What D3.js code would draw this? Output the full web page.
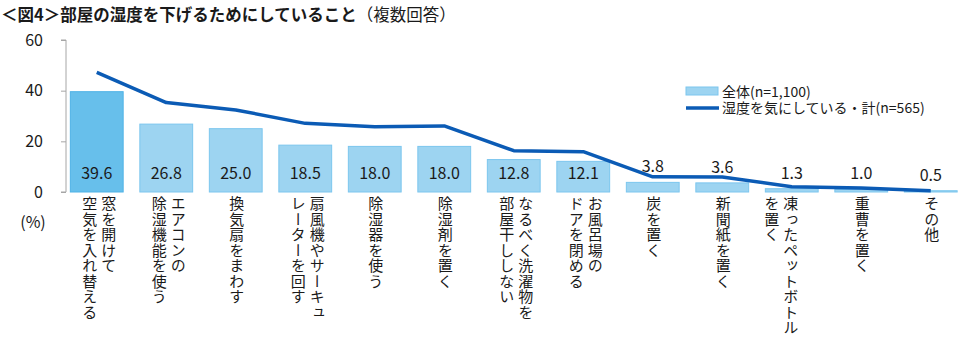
<!DOCTYPE html>
<html><head><meta charset="utf-8">
<script src="https://cdn.jsdelivr.net/npm/d3@7"></script>
<style>
body{margin:0;background:#fff;}
svg text{font-family:"Noto Sans CJK JP","Noto Sans",sans-serif;fill:#1a1a1a;}
</style></head><body>
<svg id="c" width="960" height="343"></svg>
<script>
const categories = [
  ["窓を開けて","空気を入れ替える"],
  ["エアコンの","除湿機能を使う"],
  ["換気扇をまわす"],
  ["扇風機やサーキュ","レーターを回す"],
  ["除湿器を使う"],
  ["除湿剤を置く"],
  ["なるべく洗濯物を","部屋干ししない"],
  ["お風呂場の","ドアを閉める"],
  ["炭を置く"],
  ["新聞紙を置く"],
  ["凍ったペットボトル","を置く"],
  ["重曹を置く"],
  ["その他"]
];
const totalValues = [39.6, 26.8, 25.0, 18.5, 18.0, 18.0, 12.8, 12.1, 3.8, 3.6, 1.3, 1.0, 0.5];
const concernedValues = [47.2, 35.3, 32.4, 27.1, 25.8, 26.1, 16.3, 15.9, 6.0, 5.9, 2.1, 1.6, 0.5];
const yTicks = [0, 20, 40, 60];
const seriesNames = ["全体(n=1,100)", "湿度を気にしている・計(n=565)"];
const titleMain = "＜図4＞部屋の湿度を下げるためにしていること";
const titleSub = "（複数回答）";

const svg = d3.select("#c");
const idx = d3.range(categories.length);
const x = d3.scaleBand().domain(idx).range([62, 965.5]).paddingInner(0.24).paddingOuter(0.12);
const y = d3.scaleLinear().domain([0, 60]).range([192, 40]);

// title
const t = svg.append("text").attr("x", 1).attr("y", 21).style("font-size", "16.5px");
t.append("tspan").style("font-weight", "bold").text(titleMain);
t.append("tspan").text(titleSub);

// y axis
const ax = svg.append("g").attr("transform", "translate(66,0)")
  .call(d3.axisLeft(y).tickValues(yTicks).tickSize(5).tickPadding(18).tickFormat(d3.format("d")));
ax.select(".domain").attr("stroke", "#a6a6a6").attr("d", "M-5,40H0V192H-5");
ax.selectAll(".tick line").attr("stroke", "#a6a6a6");
ax.selectAll(".tick text").style("font-size", "16px").style("font-family", "'Noto Sans CJK JP',sans-serif").attr("fill", "#1a1a1a");
svg.append("text").attr("x", 33).attr("y", 228).attr("text-anchor", "middle").style("font-size", "16px").text("(%)");

// bars
svg.append("g").selectAll("rect").data(idx).join("rect")
  .attr("x", i => x(i)).attr("width", x.bandwidth())
  .attr("y", i => y(totalValues[i])).attr("height", i => y(0) - y(totalValues[i]))
  .attr("fill", i => i === 0 ? "#67bfeb" : "#9dd4f1")
  .attr("stroke", i => i === 0 ? "#4fb2e6" : "#7cc6ee").attr("stroke-width", 1);

// line
const line = d3.line().x(i => x(i) + x.bandwidth() / 2).y(i => y(concernedValues[i]));
svg.append("path").datum(idx).attr("d", line).attr("fill", "none")
  .attr("stroke", "#0b5bb5").attr("stroke-width", 3.5).attr("stroke-linejoin", "round");

// value labels
svg.append("g").selectAll("text").data(idx).join("text")
  .attr("x", i => x(i) + x.bandwidth() / 2)
  .attr("y", i => totalValues[i] >= 10 ? 179 : y(totalValues[i]) - 10)
  .attr("text-anchor", "middle").style("font-size", "16px")
  .text(i => totalValues[i].toFixed(1));

// category labels (vertical)
const cg = svg.append("g");
idx.forEach(i => {
  const c = x(i) + x.bandwidth() / 2;
  const lines = categories[i];
  const shift = (lines.length > 1 && lines[0].length >= 9) ? -13 : 0;
  const xs = lines.length === 1 ? [c + 1] : [c + 12 + shift, c - 7 + shift];
  lines.forEach((s, k) => {
    cg.append("text").attr("x", xs[k]).attr("y", 196)
      .style("writing-mode", "vertical-rl").style("font-size", "15px")
      .style("letter-spacing", "0.5px")
      .text(s);
  });
});

// legend
const lg = svg.append("g");
lg.append("rect").attr("x", 686).attr("y", 87).attr("width", 32).attr("height", 8)
  .attr("fill", "#9dd4f1").attr("stroke", "#7cc6ee");
lg.append("line").attr("x1", 686).attr("x2", 719).attr("y1", 108).attr("y2", 108)
  .attr("stroke", "#0b5bb5").attr("stroke-width", 3.5);
lg.append("text").attr("x", 722).attr("y", 96.5).style("font-size", "14px").text(seriesNames[0]);
lg.append("text").attr("x", 722).attr("y", 113).style("font-size", "14px").text(seriesNames[1]);
</script>
</body></html>
